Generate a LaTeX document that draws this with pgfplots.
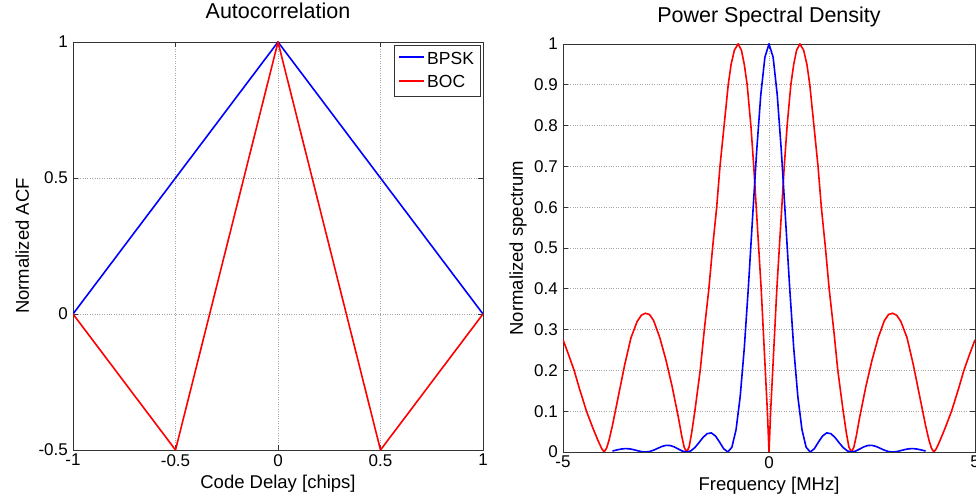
\documentclass[border=0pt]{standalone}
\usepackage{fontspec}
\setmainfont{Liberation Sans}
\usepackage{pgfplots}
\pgfplotsset{compat=1.18}
\pgfplotsset{mystyle/.style={
  scale only axis,
  axis line style={gray!40!black, line width=0.6pt},
  tick style={gray!40!black, line width=0.6pt},
  major tick length=5pt,
  grid=major,
  major grid style={dotted, gray!70, line width=0.6pt},
  tick label style={font=\fontsize{17}{19}\selectfont},
  xticklabel style={inner sep=0pt, yshift=-4pt},
  yticklabel style={inner sep=0pt, xshift=-5pt},
  label style={font=\fontsize{18.5}{21}\selectfont, inner sep=0pt},
  title style={font=\fontsize{21.5}{24}\selectfont, inner sep=0pt, anchor=base},
}}
\begin{document}
\begin{tikzpicture}
\begin{axis}[mystyle,
  at={(73pt,47pt)}, anchor=south west,
  width=410pt, height=408pt,
  xmin=-1, xmax=1, ymin=-0.5, ymax=1,
  xtick={-1,-0.5,0,0.5,1}, xticklabels={-1,-0.5,0,0.5,1},
  ytick={-0.5,0,0.5,1}, yticklabels={-0.5,0,0.5,1},
  title={Autocorrelation},
  title style={at={(axis description cs:0.5,1.042)}},
  xlabel={Code Delay [chips]},
  xlabel style={at={(axis description cs:0.5,-0.061)}, anchor=north},
  ylabel={Normalized ACF},
  ylabel style={at={(axis description cs:-0.124,0.5)}, anchor=center},
  legend style={at={(axis description cs:0.993,0.993)}, anchor=north east,
    draw=gray!40!black, fill=white, font=\fontsize{17.5}{19}\selectfont,
    inner xsep=4pt, inner ysep=5pt, row sep=6pt, cells={anchor=west}},
  legend image code/.code={\draw[#1, line width=1.8pt] (0pt,0.3ex) -- (25pt,0.3ex);},
]
\addplot[blue, line width=1.6pt] coordinates {(-1,0) (0,1) (1,0)};
\addlegendentry{BPSK}
\addplot[red, line width=1.6pt] coordinates {(-1,0) (-0.5,-0.5) (0,1) (0.5,-0.5) (1,0)};
\addlegendentry{BOC}
\end{axis}

\begin{axis}[mystyle,
  at={(563pt,45pt)}, anchor=south west,
  width=412pt, height=408pt,
  xmin=-5, xmax=5, ymin=0, ymax=1,
  xtick={-5,0,5}, xticklabels={-5,0,5},
  ytick={0,0.1,0.2,0.3,0.4,0.5,0.6,0.7,0.8,0.9,1},
  yticklabels={0,0.1,0.2,0.3,0.4,0.5,0.6,0.7,0.8,0.9,1},
  title={Power Spectral Density},
  title style={at={(axis description cs:0.5,1.039)}},
  xlabel={Frequency [MHz]},
  xlabel style={at={(axis description cs:0.5,-0.061)}, anchor=north},
  ylabel={Normalized spectrum},
  ylabel style={at={(axis description cs:-0.109,0.5)}, anchor=center},
]
\addplot[red, line width=1.6pt] coordinates {
(-5.0,0.275) (-4.87,0.24) (-4.73,0.2) (-4.6,0.155) (-4.43,0.1) (-4.28,0.06) (-4.15,0.028) (-4.06,0.008) (-4.0,0)
(-3.94,0.01) (-3.88,0.03) (-3.8,0.065) (-3.65,0.14) (-3.5,0.215) (-3.35,0.28) (-3.2,0.32) (-3.1,0.335) (-3.0,0.34)
(-2.9,0.337) (-2.8,0.322) (-2.65,0.28) (-2.5,0.225) (-2.35,0.16) (-2.2,0.085) (-2.12,0.04) (-2.06,0.012) (-2.0,0)
(-1.94,0.012) (-1.88,0.045) (-1.80,0.1) (-1.67,0.2) (-1.57,0.3) (-1.46,0.4) (-1.37,0.5) (-1.27,0.6) (-1.19,0.7)
(-1.09,0.8) (-0.99,0.9) (-0.92,0.95) (-0.84,0.985) (-0.75,1.0) (-0.67,0.985) (-0.60,0.95) (-0.53,0.9) (-0.44,0.8)
(-0.37,0.7) (-0.31,0.6) (-0.25,0.5) (-0.19,0.4) (-0.14,0.3) (-0.09,0.2) (-0.04,0.1) (0,0)
(0.04,0.1) (0.09,0.2) (0.14,0.3) (0.19,0.4) (0.25,0.5) (0.31,0.6) (0.37,0.7) (0.44,0.8) (0.53,0.9)
(0.60,0.95) (0.67,0.985) (0.75,1.0) (0.84,0.985) (0.92,0.95) (0.99,0.9) (1.09,0.8) (1.19,0.7) (1.27,0.6)
(1.37,0.5) (1.46,0.4) (1.57,0.3) (1.67,0.2) (1.80,0.1) (1.88,0.045) (1.94,0.012) (2.0,0)
(2.06,0.012) (2.12,0.04) (2.2,0.085) (2.35,0.16) (2.5,0.225) (2.65,0.28) (2.8,0.322) (2.9,0.337) (3.0,0.34)
(3.1,0.335) (3.2,0.32) (3.35,0.28) (3.5,0.215) (3.65,0.14) (3.8,0.065) (3.88,0.03) (3.94,0.01) (4.0,0)
(4.06,0.008) (4.15,0.028) (4.28,0.06) (4.43,0.1) (4.6,0.155) (4.73,0.2) (4.87,0.24) (5.0,0.275)
};
\addplot[blue, line width=1.6pt] coordinates {
(-3.8,0.00242) (-3.7,0.00484) (-3.6,0.00707) (-3.5,0.00827) (-3.4,0.00793) (-3.3,0.00609) (-3.2,0.00342) (-3.1,0.00101) (-3.0,0)
(-2.9,0.00115) (-2.8,0.00447) (-2.7,0.00910) (-2.6,0.01356) (-2.5,0.01621) (-2.4,0.01591) (-2.3,0.01254) (-2.2,0.00723) (-2.1,0.00219) (-2.0,0)
(-1.9,0.00268) (-1.8,0.01080) (-1.7,0.02295) (-1.6,0.03580) (-1.5,0.04503) (-1.4,0.04676) (-1.3,0.03924) (-1.2,0.02431) (-1.1,0.00800) (-1.0,0)
(-0.9,0.01194) (-0.8,0.05470) (-0.7,0.13534) (-0.6,0.25457) (-0.5,0.40528) (-0.4,0.57279) (-0.3,0.73684) (-0.2,0.87514) (-0.1,0.96753) (0,1)
(0.1,0.96753) (0.2,0.87514) (0.3,0.73684) (0.4,0.57279) (0.5,0.40528) (0.6,0.25457) (0.7,0.13534) (0.8,0.05470) (0.9,0.01194) (1.0,0)
(1.1,0.00800) (1.2,0.02431) (1.3,0.03924) (1.4,0.04676) (1.5,0.04503) (1.6,0.03580) (1.7,0.02295) (1.8,0.01080) (1.9,0.00268) (2.0,0)
(2.1,0.00219) (2.2,0.00723) (2.3,0.01254) (2.4,0.01591) (2.5,0.01621) (2.6,0.01356) (2.7,0.00910) (2.8,0.00447) (2.9,0.00115) (3.0,0)
(3.1,0.00101) (3.2,0.00342) (3.3,0.00609) (3.4,0.00793) (3.5,0.00827) (3.6,0.00707) (3.7,0.00484) (3.8,0.00242)
};
\end{axis}
\pgfresetboundingbox
\path[use as bounding box] (0pt,0pt) rectangle (976pt,497pt);
\end{tikzpicture}
\end{document}
